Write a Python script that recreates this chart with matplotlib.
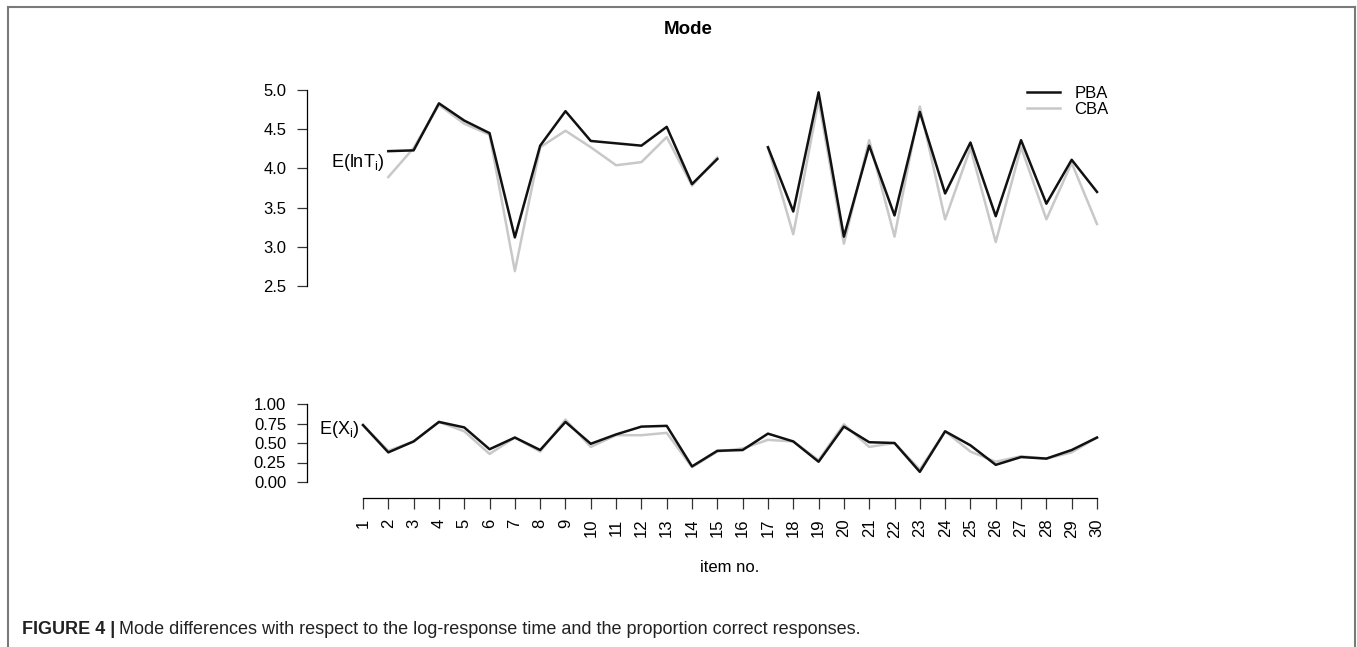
import numpy as np
import matplotlib
matplotlib.use('Agg')
import matplotlib.pyplot as plt
from matplotlib.lines import Line2D

plt.rcParams['font.family'] = ['Liberation Sans', 'DejaVu Sans']
plt.rcParams['mathtext.fontset'] = 'custom'
plt.rcParams['mathtext.rm'] = 'Liberation Sans'

# item numbers
items = np.arange(1, 31)

# E(ln T_i): items 1 and 16 are missing
lnT_pba = [np.nan, 4.22, 4.23, 4.83, 4.61, 4.45, 3.12, 4.29, 4.73, 4.35,
           4.32, 4.29, 4.53, 3.80, 4.12, np.nan, 4.27, 3.45, 4.97, 3.13,
           4.29, 3.40, 4.72, 3.68, 4.33, 3.39, 4.36, 3.55, 4.11, 3.70]
lnT_cba = [np.nan, 3.89, 4.26, 4.81, 4.57, 4.43, 2.69, 4.27, 4.48, 4.27,
           4.04, 4.08, 4.40, 3.78, 4.14, np.nan, 4.27, 3.16, 4.87, 3.04,
           4.36, 3.13, 4.79, 3.35, 4.26, 3.06, 4.27, 3.35, 4.07, 3.29]

# E(X_i): proportion correct
x_pba = [0.73, 0.38, 0.52, 0.77, 0.70, 0.42, 0.57, 0.41, 0.77, 0.49,
         0.61, 0.71, 0.72, 0.20, 0.40, 0.41, 0.62, 0.52, 0.26, 0.71,
         0.51, 0.50, 0.13, 0.65, 0.47, 0.22, 0.32, 0.30, 0.41, 0.57]
x_cba = [0.73, 0.40, 0.52, 0.77, 0.65, 0.36, 0.57, 0.39, 0.80, 0.45,
         0.60, 0.60, 0.63, 0.19, 0.39, 0.43, 0.54, 0.52, 0.28, 0.74,
         0.45, 0.50, 0.16, 0.65, 0.39, 0.26, 0.33, 0.30, 0.38, 0.57]

lnT_ticks = [2.5, 3.0, 3.5, 4.0, 4.5, 5.0]
x_ticks = [0.0, 0.25, 0.5, 0.75, 1.0]

W, H = 1357, 647
fig = plt.figure(figsize=(W / 100, H / 100), dpi=100)

px = 25.31          # pixels per item
left_px, right_px = 307, 1120
xlim = (1 - (363 - left_px) / px, 1 + (right_px - 363) / px)

def fig_rect(top, bottom):
    return [left_px / W, 1 - bottom / H, (right_px - left_px) / W, (bottom - top) / H]

black = '#111111'
grey = '#c8c8c8'
fs = 12

# top panel
ax1 = fig.add_axes(fig_rect(80, 300))
ax1.plot(items, lnT_cba, color=grey, lw=1.8, label='CBA')
ax1.plot(items, lnT_pba, color=black, lw=1.8, label='PBA')
ax1.set_xlim(*xlim)
ax1.set_ylim(5.0 - 210 / 78.4, 5.0 + 10 / 78.4)
ax1.set_yticks(lnT_ticks)
ax1.set_yticklabels(['%.1f' % v for v in lnT_ticks])
ax1.spines['left'].set_bounds(2.5, 5.0)
for s in ['top', 'right', 'bottom']:
    ax1.spines[s].set_visible(False)
ax1.set_xticks([])
ax1.tick_params(axis='y', length=7, width=0.9, pad=8, labelsize=fs, color='#333333')
ax1.spines['left'].set_linewidth(0.9)
ax1.text(-0.25, 4.08, r'E(lnT$_{\mathregular{i}}$)', ha='left', va='center', fontsize=13)

h, l = ax1.get_legend_handles_labels()
ax1.legend(h[::-1], l[::-1], loc='upper left', frameon=False,
           bbox_to_anchor=(1027 / W, 1 - 86 / H), bbox_transform=fig.transFigure,
           borderpad=0, borderaxespad=0, handlelength=2.0, handletextpad=0.85,
           labelspacing=0.05, fontsize=fs)

# bottom panel
ax2 = fig.add_axes(fig_rect(395, 498))
ax2.plot(items, x_cba, color=grey, lw=1.8)
ax2.plot(items, x_pba, color=black, lw=1.8)
ax2.set_xlim(*xlim)
ax2.set_ylim(-16 / 78, 87 / 78)
ax2.set_yticks(x_ticks)
ax2.set_yticklabels(['%.2f' % v for v in x_ticks])
ax2.spines['left'].set_bounds(0, 1)
ax2.spines['bottom'].set_bounds(1, 30)
for s in ['top', 'right']:
    ax2.spines[s].set_visible(False)
ax2.set_xticks(items)
ax2.set_xticklabels([str(i) for i in items], rotation=90)
ax2.tick_params(axis='y', length=7, width=0.9, pad=8, labelsize=fs, color='#333333')
ax2.tick_params(axis='x', length=8, width=0.9, pad=7, labelsize=fs, color='#333333')
for s in ['left', 'bottom']:
    ax2.spines[s].set_linewidth(0.9)
ax2.text(-0.72, 0.667, r'E(X$_{\mathregular{i}}$)', ha='left', va='center', fontsize=13)

fig.text(730 / W, 1 - 568 / H, 'item no.', ha='center', va='center', fontsize=fs)
fig.text(688 / W, 1 - 30 / H, 'Mode', ha='center', va='center', fontsize=13.5, fontweight='bold')

# caption
cap_fs = 13
bold = fig.text(22 / W, 1 - 630 / H, 'FIGURE 4 |', ha='left', va='center',
                fontsize=cap_fs, fontweight='bold', color='#222222')
fig.canvas.draw()
bb = bold.get_window_extent()
fig.text((bb.x1 + 4) / W, 1 - 630 / H,
         'Mode differences with respect to the log-response time and the proportion correct responses.',
         ha='left', va='center', fontsize=cap_fs, color='#222222')

# outer frame
frame = dict(color='#7a7a7a', lw=1.5, transform=fig.transFigure)
fig.add_artist(Line2D([8 / W, 1355 / W], [1 - 7 / H, 1 - 7 / H], **frame))
fig.add_artist(Line2D([8 / W, 8 / W], [0, 1 - 7 / H], **frame))
fig.add_artist(Line2D([1355 / W, 1355 / W], [0, 1 - 7 / H], **frame))

fig.savefig('out.png', dpi=100)
